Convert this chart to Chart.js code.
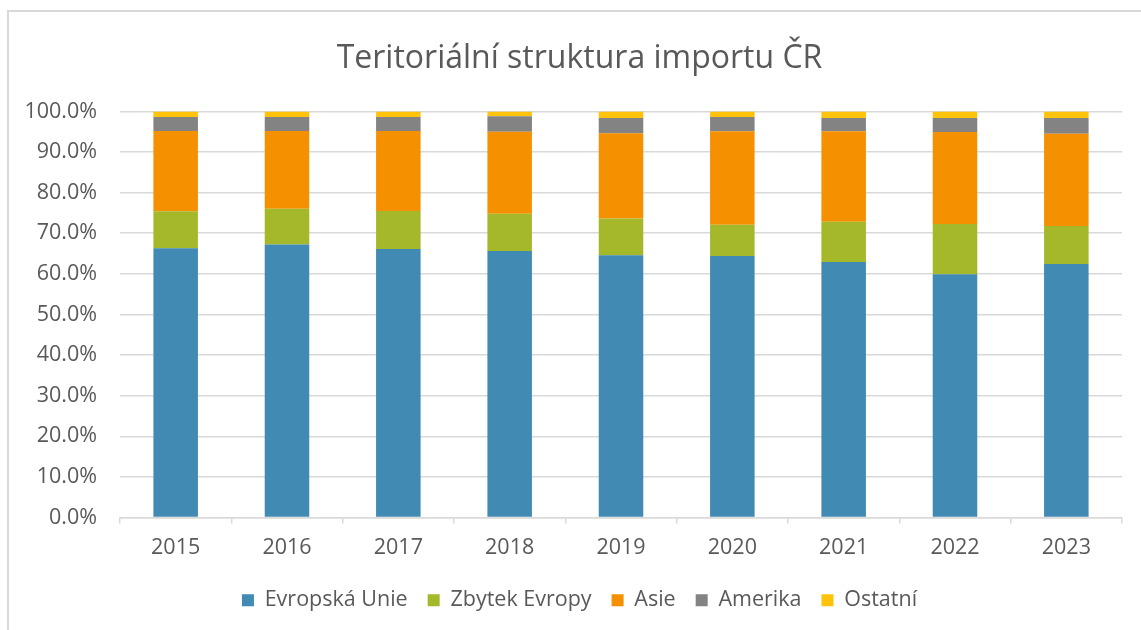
<!DOCTYPE html>
<html>
<head>
<meta charset="utf-8">
<script src="https://cdn.jsdelivr.net/npm/chart.js@4/dist/chart.umd.min.js"></script>
<style>
  html, body { margin: 0; padding: 0; background: #ffffff; overflow: hidden; }
  #wrap { position: relative; width: 1141px; height: 630px; }
  #frame {
    position: absolute; left: 7px; top: 10px; width: 2000px; height: 2000px;
    border-left: 2px solid #d9d9d9; border-top: 2px solid #d9d9d9;
    pointer-events: none;
  }
</style>
</head>
<body>
<div id="wrap">
  <canvas id="importChart" width="1141" height="630"></canvas>
  <div id="frame"></div>
</div>
<script>
const years = ["2015", "2016", "2017", "2018", "2019", "2020", "2021", "2022", "2023"];

// podíly v %
const evropskaUnie = [66.3, 67.2, 66.1, 65.6, 64.6, 64.4, 62.9, 59.9, 62.4];
const zbytekEvropy = [9.1, 8.8, 9.4, 9.2, 9.0, 7.7, 9.9, 12.4, 9.4];
const asie = [19.8, 19.2, 19.7, 20.2, 21.0, 23.0, 22.3, 22.6, 22.7];
const amerika = [3.4, 3.4, 3.4, 3.8, 3.8, 3.5, 3.3, 3.5, 3.9];
const ostatni = [1.4, 1.4, 1.4, 1.2, 1.6, 1.4, 1.6, 1.6, 1.6];

const textColor = "#595959";
const gridColor = "#d9d9d9";
const fontFamily = "'Open Sans', 'Noto Sans', sans-serif";

function makeDataset(label, data, color) {
  return {
    label: label,
    data: data,
    backgroundColor: color,
    borderWidth: 0,
    barPercentage: 0.4,
    categoryPercentage: 1.0,
  };
}

const importChart = new Chart(document.getElementById("importChart"), {
  type: "bar",
  data: {
    labels: years,
    datasets: [
      makeDataset("Evropská Unie", evropskaUnie, "#418ab3"),
      makeDataset("Zbytek Evropy", zbytekEvropy, "#a5b82a"),
      makeDataset("Asie", asie, "#f59100"),
      makeDataset("Amerika", amerika, "#838383"),
      makeDataset("Ostatní", ostatni, "#fec30a"),
    ],
  },
  options: {
    responsive: false,
    animation: false,
    layout: {
      padding: { left: 25, right: 7, top: 0, bottom: 9 },
    },
    plugins: {
      title: {
        display: true,
        text: "Teritoriální struktura importu ČR",
        color: textColor,
        font: { family: fontFamily, size: 32, weight: "normal", lineHeight: 1.2 },
        padding: { top: 40, bottom: 33 },
      },
      legend: {
        position: "bottom",
        labels: {
          color: textColor,
          font: { family: fontFamily, size: 21.5 },
          boxWidth: 12,
          boxHeight: 12,
          padding: 20,
        },
      },
      tooltip: { enabled: false },
    },
    scales: {
      x: {
        stacked: true,
        grid: {
          drawOnChartArea: false,
          drawTicks: true,
          tickLength: 6,
          color: gridColor,
          lineWidth: 1.5,
        },
        border: { display: true, color: gridColor, width: 1.5 },
        ticks: {
          color: textColor,
          font: { family: fontFamily, size: 21.5 },
          padding: 11,
        },
        afterFit: (scale) => {
          scale.height = 52;
        },
      },
      y: {
        stacked: true,
        min: 0,
        max: 100,
        grid: {
          color: gridColor,
          lineWidth: 1.5,
          drawTicks: false,
        },
        border: { display: false },
        ticks: {
          stepSize: 10,
          color: textColor,
          font: { family: fontFamily, size: 21.5 },
          padding: 23,
          callback: (value) => value.toFixed(1) + "%",
        },
        afterFit: (scale) => {
          scale.width = 95;
        },
      },
      // prázdná pravá osa jen kvůli odsazení
      spacer: {
        type: "linear",
        position: "right",
        grid: { display: false },
        border: { display: false },
        ticks: { display: false },
        afterFit: (scale) => {
          scale.width = 12;
        },
      },
    },
  },
});
</script>
</body>
</html>
